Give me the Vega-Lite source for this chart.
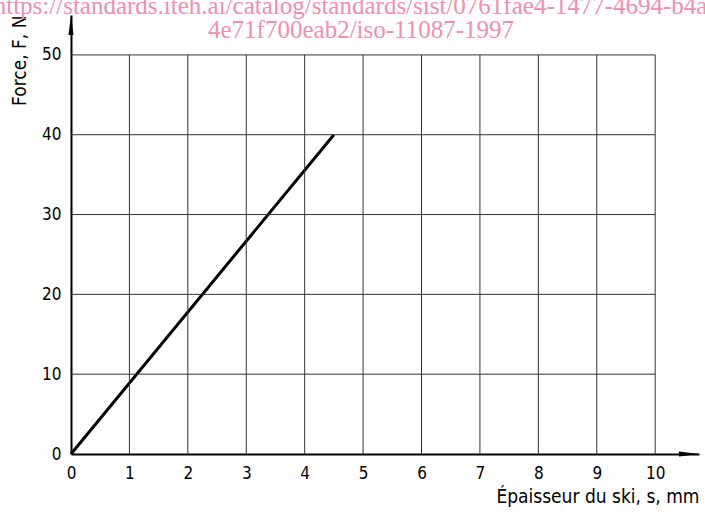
{
  "$schema": "https://vega.github.io/schema/vega-lite/v6.json",
  "width": 628,
  "height": 439,
  "autosize": {"type": "none"},
  "padding": {"left": 71, "top": 15, "right": 6, "bottom": 59},
  "background": "white",
  "title": {
    "text": ["https://standards.iteh.ai/catalog/standards/sist/0761fae4-1477-4694-b4a5-", "4e71f700eab2/iso-11087-1997"],
    "font": "Liberation Serif",
    "fontSize": 25,
    "fontWeight": "normal",
    "color": "#f08fae",
    "anchor": "middle",
    "frame": "group",
    "lineHeight": 24,
    "offset": 0,
    "dx": -24,
    "dy": 28
  },
  "config": {
    "view": {"stroke": null},
    "axis": {
      "domainColor": "black",
      "domainWidth": 2,
      "ticks": false,
      "grid": false,
      "labelFont": "DejaVu Sans Condensed",
      "labelFontSize": 17,
      "labelColor": "black",
      "labelFlush": false,
      "titleFont": "DejaVu Sans Condensed",
      "titleFontSize": 19,
      "titleFontWeight": "normal",
      "titleColor": "black"
    }
  },
  "datasets": {
    "curve": [{"s": 0, "F": 0}, {"s": 4.5, "F": 40}],
    "vgrid": [{"s": 1}, {"s": 2}, {"s": 3}, {"s": 4}, {"s": 5}, {"s": 6}, {"s": 7}, {"s": 8}, {"s": 9}, {"s": 10}],
    "hgrid": [{"F": 10}, {"F": 20}, {"F": 30}, {"F": 40}, {"F": 50}],
    "xarrow": [{"s": 10.75, "F": 0}],
    "yarrow": [{"s": 0, "F": 55}]
  },
  "layer": [
    {
      "data": {"name": "curve"},
      "mark": {"type": "line", "color": "black", "strokeWidth": 3},
      "encoding": {
        "x": {
          "field": "s", "type": "quantitative",
          "scale": {"domain": [0, 10.75], "nice": false},
          "axis": {"values": [0, 1, 2, 3, 4, 5, 6, 7, 8, 9, 10], "format": "d", "title": "Épaisseur du ski, s, mm", "titleAnchor": "end", "labelPadding": 11, "titlePadding": 6}
        },
        "y": {
          "field": "F", "type": "quantitative",
          "scale": {"domain": [0, 55], "nice": false},
          "axis": {"values": [0, 10, 20, 30, 40, 50], "format": "d", "title": "Force, F, N", "titleAnchor": "end", "labelPadding": 10, "titlePadding": 12}
        }
      }
    },
    {
      "data": {"name": "vgrid"},
      "mark": {"type": "rule", "color": "#333", "strokeWidth": 1},
      "encoding": {
        "x": {"field": "s", "type": "quantitative"},
        "y": {"datum": 0, "type": "quantitative"},
        "y2": {"datum": 50}
      }
    },
    {
      "data": {"name": "hgrid"},
      "mark": {"type": "rule", "color": "#333", "strokeWidth": 1},
      "encoding": {
        "y": {"field": "F", "type": "quantitative"},
        "x": {"datum": 0, "type": "quantitative"},
        "x2": {"datum": 10}
      }
    },
    {
      "data": {"name": "xarrow"},
      "mark": {"type": "point", "filled": true, "color": "black", "opacity": 1, "size": 400, "shape": "M0,0L-2,-0.25L-2,0.25Z"},
      "encoding": {
        "x": {"field": "s", "type": "quantitative"},
        "y": {"field": "F", "type": "quantitative"}
      }
    },
    {
      "data": {"name": "yarrow"},
      "mark": {"type": "point", "filled": true, "color": "black", "opacity": 1, "size": 400, "shape": "M0,0L-0.25,2L0.25,2Z"},
      "encoding": {
        "x": {"field": "s", "type": "quantitative"},
        "y": {"field": "F", "type": "quantitative"}
      }
    }
  ]
}
